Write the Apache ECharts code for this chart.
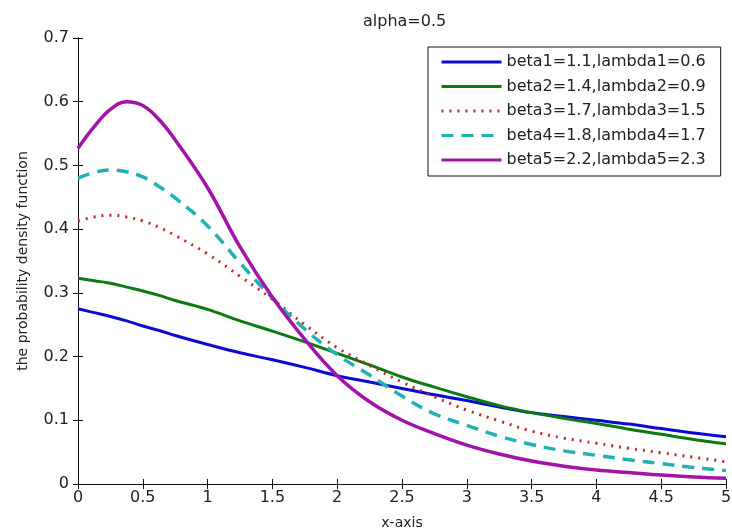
<!DOCTYPE html>
<html>
<head>
<meta charset="utf-8">
<script src="https://cdn.jsdelivr.net/npm/echarts@6/dist/echarts.min.js"></script>
<style>
  html, body { margin: 0; padding: 0; background: #fff; }
  #main { width: 732px; height: 531px; }
</style>
</head>
<body>
<div id="main"></div>
<script>
  // x positions the curves were read at
  const xs = [0, 0.125, 0.25, 0.375, 0.5, 0.625, 0.75, 1, 1.25, 1.5, 1.75, 2, 2.25, 2.5, 2.75, 3, 3.25, 3.5, 3.75, 4, 4.25, 4.5, 4.75, 5]

  const beta1 = [0.275, 0.269, 0.263, 0.256, 0.248, 0.241, 0.233, 0.219, 0.206, 0.195, 0.183, 0.170, 0.160, 0.150, 0.140, 0.131, 0.121, 0.112, 0.106, 0.100, 0.094, 0.087, 0.080, 0.074]
  const beta2 = [0.323, 0.319, 0.315, 0.309, 0.303, 0.296, 0.288, 0.274, 0.256, 0.240, 0.223, 0.205, 0.187, 0.168, 0.152, 0.137, 0.123, 0.112, 0.103, 0.095, 0.086, 0.078, 0.070, 0.063]
  const beta3 = [0.413, 0.419, 0.422, 0.419, 0.413, 0.403, 0.390, 0.361, 0.326, 0.290, 0.250, 0.214, 0.186, 0.160, 0.137, 0.116, 0.099, 0.083, 0.072, 0.064, 0.056, 0.049, 0.042, 0.035]
  const beta4 = [0.480, 0.489, 0.493, 0.490, 0.482, 0.467, 0.449, 0.405, 0.347, 0.292, 0.243, 0.203, 0.171, 0.138, 0.110, 0.092, 0.075, 0.062, 0.052, 0.045, 0.038, 0.032, 0.026, 0.021]
  const beta5 = [0.527, 0.561, 0.588, 0.600, 0.594, 0.572, 0.540, 0.465, 0.372, 0.293, 0.227, 0.170, 0.129, 0.100, 0.079, 0.061, 0.047, 0.036, 0.028, 0.022, 0.018, 0.014, 0.011, 0.009]

  const names = [
    'beta1=1.1,lambda1=0.6',
    'beta2=1.4,lambda2=0.9',
    'beta3=1.7,lambda3=1.5',
    'beta4=1.8,lambda4=1.7',
    'beta5=2.2,lambda5=2.3'
  ]

  const font = 'DejaVu Sans'
  const pairs = arr => xs.map((x, i) => [x, arr[i]])

  function mkLine(name, arr, color, width, type) {
    return {
      name: name,
      type: 'line',
      data: pairs(arr),
      smooth: 0.4,
      symbol: 'none',
      xAxisIndex: 0,
      yAxisIndex: 0,
      lineStyle: { color: color, width: width, type: type },
      itemStyle: { color: color }
    }
  }

  const axisCommon = {
    type: 'value',
    axisLine: { show: true, lineStyle: { color: '#111', width: 1 } },
    axisTick: { show: true, inside: true, length: 5, lineStyle: { color: '#111' } },
    splitLine: { show: false }
  }

  const option = {
    animation: false,
    backgroundColor: '#fff',
    title: {
      text: 'alpha=0.5',
      left: 358,
      top: 9,
      textStyle: { fontFamily: font, fontSize: 16, fontWeight: 'normal', color: '#222' }
    },
    legend: {
      orient: 'vertical',
      left: 428,
      top: 47,
      padding: [7, 15, 8, 12],
      itemWidth: 60,
      itemHeight: 16,
      itemGap: 8.5,
      borderColor: '#111',
      borderWidth: 1,
      backgroundColor: '#fff',
      itemStyle: { opacity: 0 },
      lineStyle: { width: 3 },
      textStyle: { fontFamily: font, fontSize: 16, color: '#222', lineHeight: 16 },
      data: names
    },
    grid: {
      left: 78,
      right: 6,
      top: 38,
      bottom: 47,
      outerBoundsMode: 'none'
    },
    xAxis: [
      Object.assign({}, axisCommon, {
        min: 0, max: 5, interval: 0.5,
        position: 'bottom',
        name: 'x-axis',
        nameLocation: 'middle',
        nameGap: 32,
        nameTextStyle: { fontFamily: font, fontSize: 14, color: '#222' },
        axisLabel: { fontFamily: font, fontSize: 16, color: '#222', margin: 6 }
      }),
      Object.assign({}, axisCommon, {
        min: 0, max: 5, interval: 0.5,
        position: 'top',
        axisLabel: { show: false }
      })
    ],
    yAxis: [
      Object.assign({}, axisCommon, {
        min: 0, max: 0.7, interval: 0.1,
        position: 'left',
        name: 'the probability density function',
        nameLocation: 'middle',
        nameGap: 48,
        nameRotate: 90,
        nameTextStyle: { fontFamily: font, fontSize: 14, color: '#222' },
        axisLabel: { fontFamily: font, fontSize: 16, color: '#222', margin: 9 }
      }),
      Object.assign({}, axisCommon, {
        min: 0, max: 0.7, interval: 0.1,
        position: 'right',
        axisLabel: { show: false }
      })
    ],
    series: [
      mkLine(names[0], beta1, '#0a0ad2', 3, 'solid'),
      mkLine(names[1], beta2, '#0c7a12', 3, 'solid'),
      mkLine(names[2], beta3, '#c42626', 3, [2, 6]),
      mkLine(names[3], beta4, '#1fb2b2', 3.5, [12, 8]),
      mkLine(names[4], beta5, '#a312aa', 3.5, 'solid')
    ]
  }

  const myChart = echarts.init(document.getElementById('main'))
  myChart.setOption(option)
</script>
</body>
</html>
